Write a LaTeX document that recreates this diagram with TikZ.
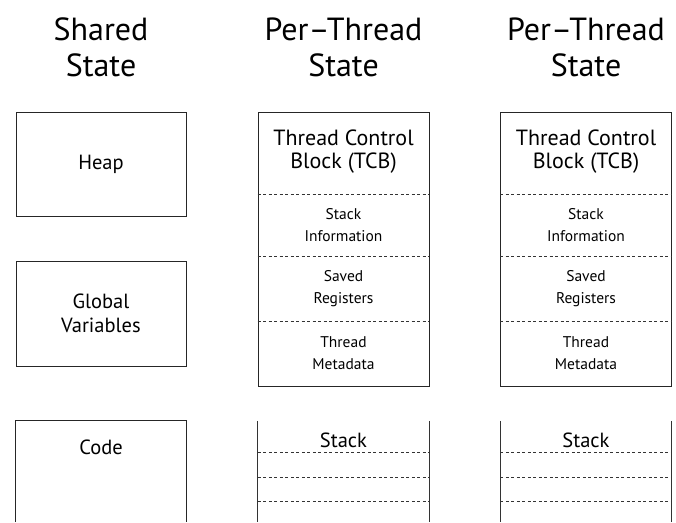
\documentclass[tikz,border=0pt]{standalone}
\usepackage{fontspec}
\setmainfont{PT Sans}
\tikzset{blockbox/.style={draw=black!85,line width=0.8pt,inner sep=0pt}}
\tikzset{sepline/.style={black!80,line width=0.6pt,dash pattern=on 3pt off 2.5pt}}
\tikzset{titletext/.style={font=\fontsize{32}{36}\selectfont,anchor=base}}
\tikzset{boxtext/.style={font=\fontsize{20.5}{24}\selectfont,align=center}}
\tikzset{tcbtext/.style={font=\fontsize{22}{23}\selectfont,align=center}}
\tikzset{smalltext/.style={font=\fontsize{15.5}{22}\selectfont,align=center}}

\begin{document}
\begin{tikzpicture}[x=1pt,y=-1pt]
  \useasboundingbox (0,0) rectangle (676,522);

  \def\xs{101}
  \coordinate (bottom) at (0,522);

  % shared state
  \node [titletext] (sharedtop) at (\xs,40) {Shared};
  \node [titletext] (sharedbot) at (\xs,76) {State};

  \node [blockbox,minimum width=170pt,minimum height=104pt,boxtext] (heap) at (\xs,164) {Heap};
  \node [blockbox,minimum width=170pt,minimum height=105pt,boxtext] (globals) at (\xs,313.5) {Global\\Variables};
  \node [minimum width=170pt,minimum height=101pt,inner sep=0pt] (code) at (\xs,471.5) {};
  \node [boxtext] (codelbl) at (\xs,447) {Code};
  \draw [black!85,line width=0.8pt] (code.south west) -- (code.north west)
        -- (code.north east) -- (code.south east);

  % per-thread state
  \foreach \x/\n in {343.5/A,586/B} {
    \node [titletext] (pertop\n) at (\x,40) {Per--Thread};
    \node [titletext] (perbot\n) at (\x,76) {State};

    \node [blockbox,minimum width=171pt,minimum height=274pt] (tcb\n) at (\x,249) {};
    \node [tcbtext] (tcbname\n) at (\x,152) {Thread Control\\Block (TCB)};
    \draw [sepline] (tcb\n.west |- 0,194) -- (tcb\n.east |- 0,194);
    \node [smalltext] (stackinfo\n) at (\x,225) {Stack\\Information};
    \draw [sepline] (tcb\n.west |- 0,256) -- (tcb\n.east |- 0,256);
    \node [smalltext] (savedregs\n) at (\x,288.5) {Saved\\Registers};
    \draw [sepline] (tcb\n.west |- 0,321) -- (tcb\n.east |- 0,321);
    \node [smalltext] (metadata\n) at (\x,353.5) {Thread\\Metadata};

    \node [minimum width=171pt,minimum height=101pt,inner sep=0pt] (stack\n) at (\x,471.5) {};
    \draw [black!80,line width=1pt] (stack\n.north west) -- (stack\n.south west);
    \draw [black!80,line width=1pt] (stack\n.north east) -- (stack\n.south east);
    \node [boxtext,anchor=base] (stacklbl\n) at (\x,447) {Stack};
    \foreach \y in {452,477,501}
      \draw [sepline] (stack\n.west |- 0,\y) -- (stack\n.east |- 0,\y);
  }
\end{tikzpicture}
\end{document}
